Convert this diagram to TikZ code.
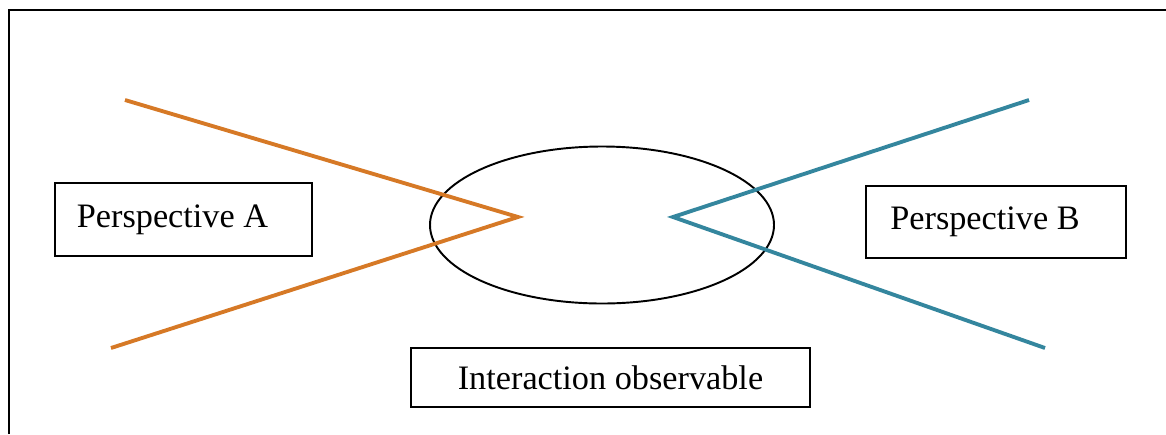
\documentclass[tikz,border=0pt]{standalone}
\usepackage{fontspec}
\setmainfont{Liberation Serif}
\usetikzlibrary{shapes.geometric}
\definecolor{viewA}{RGB}{214,121,38}
\definecolor{viewB}{RGB}{52,134,158}
\tikzset{
	labelbox/.style={draw, line width=1.2pt, inner sep=0pt, font=\fontsize{19.5}{22}\selectfont},
	viewline/.style={line width=2.2pt, line join=miter}
}
\begin{document}
\begin{tikzpicture}[x=0.02cm, y=-0.02cm]
				\useasboundingbox (0,0) rectangle (1166,434);
				\draw[line width=1pt] (9,434)--(9,10)--(1166,10);
				\node[draw, ellipse, line width=1.1pt, minimum width=344*0.02cm, minimum height=157*0.02cm, inner sep=0pt] (obs) at (602,225) {};
				\coordinate (a1) at (125,100);
				\coordinate (a2) at (111,348);
				\coordinate (aTip) at (518,217);
				\coordinate (b1) at (1029,100);
				\coordinate (b2) at (1045,348);
				\coordinate (bTip) at (673,217);
				\draw[viewline, viewA] (a1)--(aTip)--(a2);
				\draw[viewline, viewB] (b1)--(bTip)--(b2);
				\node[labelbox, minimum width=257*0.02cm, minimum height=73*0.02cm] (pA) at (183.5,219.5) {Perspective A\hspace*{0.44cm}};
				\node[labelbox, minimum width=260*0.02cm, minimum height=72*0.02cm] (pB) at (996,222) {Perspective B\hspace*{0.44cm}};
				\node[labelbox, minimum width=399*0.02cm, minimum height=59*0.02cm] (inter) at (610.5,377.5) {Interaction observable};
			\end{tikzpicture}
\end{document}
